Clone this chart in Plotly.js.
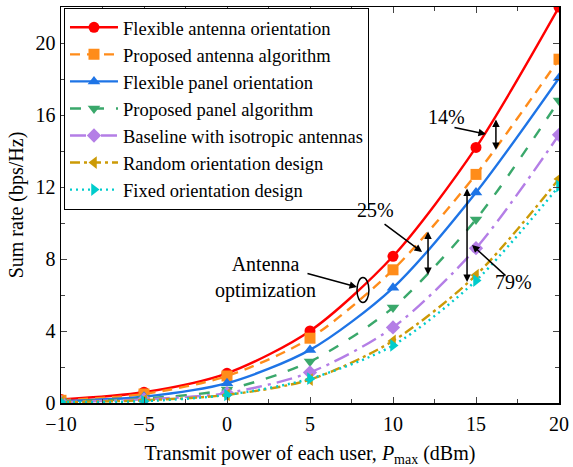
<!DOCTYPE html>
<html>
<head>
<meta charset="utf-8">
<script src="https://cdn.plot.ly/plotly-3.0.1.min.js"></script>
<style>
html,body{margin:0;padding:0;background:#fff;}
#chart{width:573px;height:467px;}
#chart text{font-family:"Liberation Serif","Times New Roman",serif !important;}
</style>
</head>
<body>
<div id="chart"></div>
<script>
const powerDbm = [-10, -5, 0, 5, 10, 15, 20];
const seriesNames = [
  "Flexible antenna orientation",
  "Proposed antenna algorithm",
  "Flexible panel orientation",
  "Proposed panel algorithm",
  "Baseline with isotropic antennas",
  "Random orientation design",
  "Fixed orientation design"
];
const flexAntenna   = [0.2, 0.6, 1.65, 4.0, 8.15, 14.2, 22.0];
const propAntenna   = [0.15, 0.5, 1.5, 3.6, 7.4, 12.7, 19.1];
const flexPanel     = [0.1, 0.35, 1.1, 2.95, 6.4, 11.7, 18.05];
const propPanel     = [0.1, 0.25, 0.75, 2.3, 5.3, 10.2, 16.8];
const baseline      = [0.05, 0.2, 0.55, 1.7, 4.2, 8.6, 14.9];
const randomDesign  = [0.05, 0.15, 0.45, 1.3, 3.45, 7.1, 12.45];
const fixedDesign   = [0.05, 0.1, 0.45, 1.35, 3.2, 6.8, 12.05];

const allValues = [flexAntenna, propAntenna, flexPanel, propPanel, baseline, randomDesign, fixedDesign];
const colors = ["#ff0000", "#ff8c1a", "#1e74e6", "#3aa86b", "#b47ee6", "#cc9a06", "#00cccc"];
const dashes = ["solid", "10px,7px", "solid", "11px,12px", "16px,6px,3px,6px", "10px,4px,3px,4px", "2px,4px"];
const symbols = ["circle", "square", "triangle-up", "triangle-down", "diamond", "triangle-left", "triangle-right"];

const traces = allValues.map((vals, i) => ({
  x: powerDbm,
  y: vals,
  name: seriesNames[i],
  type: "scatter",
  mode: "lines+markers",
  line: {color: colors[i], width: 2.4, dash: dashes[i], shape: "spline", smoothing: 0.8},
  marker: {color: colors[i], symbol: symbols[i], size: 11}
}));

const FAM = "Liberation Serif";
function f(sz) { return {family: FAM, color: "#000", size: sz}; }

function arrow(xh, yh, ax, ay) {
  return {x: xh, y: yh, xref: "x", yref: "y", ax: ax, ay: ay, text: "", showarrow: true,
          arrowhead: 2, arrowsize: 1, arrowwidth: 1.5, arrowcolor: "#000"};
}
function dbl(x, y0, y1) {
  return {x: x, y: y0, xref: "x", yref: "y", ax: x, ay: y1, axref: "x", ayref: "y", text: "",
          showarrow: true, arrowhead: 2, startarrowhead: 2, arrowside: "end+start",
          arrowsize: 1, startarrowsize: 1, arrowwidth: 1.5, arrowcolor: "#000"};
}
function label(x, y, t) {
  return {x: x, y: y, xref: "x", yref: "y", text: t, showarrow: false,
          font: f(20), align: "center"};
}

const layout = {
  width: 573, height: 467,
  margin: {l: 61, r: 14, t: 7, b: 64},
  paper_bgcolor: "#fff", plot_bgcolor: "#fff",
  font: f(20),
  showlegend: true,
  legend: {x: 0.006, y: 0.998, xanchor: "left", yanchor: "top",
           bgcolor: "#fff", bordercolor: "#000", borderwidth: 1,
           font: f(18.5), itemwidth: 48, tracegroupgap: 0},
  xaxis: {range: [-10, 20], tickvals: [-10, -5, 0, 5, 10, 15, 20], ticks: "inside", ticklen: 6,
          minor: {dtick: 2.5, ticks: "inside", ticklen: 4, tick0: -10},
          showline: true, linecolor: "#000", linewidth: 1.5, mirror: "ticks", showgrid: false,
          zeroline: false, tickfont: f(20), ticklabelstandoff: 2,
          title: {text: "Transmit power of each user, <i>P</i><sub>max</sub> (dBm)", font: f(20), standoff: 12}},
  yaxis: {range: [0, 22], tickvals: [0, 4, 8, 12, 16, 20], ticks: "inside", ticklen: 6,
          minor: {dtick: 2, ticks: "inside", ticklen: 4, tick0: 0},
          showline: true, linecolor: "#000", linewidth: 1.5, mirror: "ticks", showgrid: false,
          zeroline: false, tickfont: f(20),
          title: {text: "Sum rate (bps/Hz)", font: f(20), standoff: 6}},
  annotations: [
    label(13.25, 15.9, "14%"),
    arrow(15.6, 14.94, -33, -7),
    dbl(16.2, 14.06, 15.83),
    label(8.92, 10.72, "25%"),
    arrow(11.75, 8.39, -39, -29),
    dbl(12.11, 7.11, 9.61),
    label(17.23, 6.72, "79%"),
    arrow(14.76, 8.78, 35, 32),
    dbl(14.46, 6.72, 12.0),
    label(2.29, 7.0, "Antenna<br>optimization"),
    arrow(7.83, 6.44, -51, -14)
  ],
  shapes: [
    {type: "circle", xref: "x", yref: "y", x0: 7.83, x1: 8.55, y0: 5.58, y1: 6.97,
     line: {color: "#000", width: 1.5}}
  ]
};

Plotly.newPlot("chart", traces, layout, {displayModeBar: false, staticPlot: true});
</script>
</body>
</html>
